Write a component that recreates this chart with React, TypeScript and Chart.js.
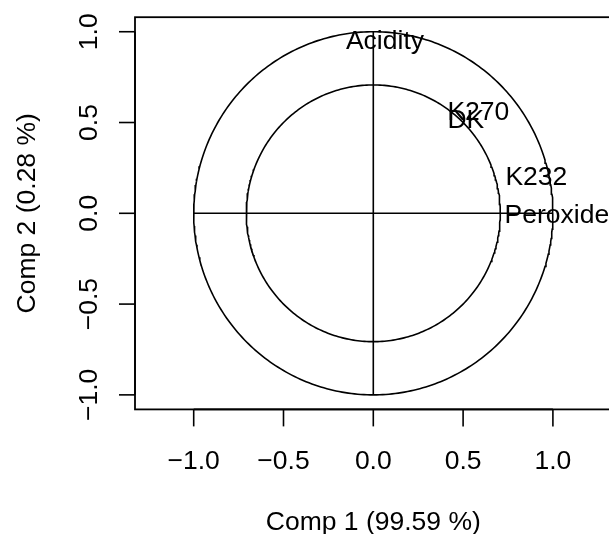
import React, { useEffect, useRef } from "react";
import { Chart, registerables } from "chart.js";

Chart.register(...registerables);

// Variables (correlation circle labels)
const varNames = ["Acidity", "Peroxide", "K232", "K270", "DK"];
const comp1 = [0.065, 1.022, 0.908, 0.585, 0.515];
const comp2 = [0.959, 0.0, 0.209, 0.564, 0.521];

// Circle radii
const circleRadii = [1, 0.707];

// Tick values / labels
const xTicks = [-1, -0.5, 0, 0.5, 1];
const xTickLabels = ["\u22121.0", "\u22120.5", "0.0", "0.5", "1.0"];
const yTicks = [-1, -0.5, 0, 0.5, 1];
const yTickLabels = ["\u22121.0", "\u22120.5", "0.0", "0.5", "1.0"];

const xTitle = "Comp 1 (99.59 %)";
const yTitle = "Comp 2 (0.28 %)";

const FONT = "26.5px 'Liberation Sans', Arial, Helvetica, sans-serif";
const CAP = 0.716 * 26.5;

function circlePoints(r: number) {
  const pts: { x: number; y: number }[] = [];
  const n = 360;
  for (let i = 0; i <= n; i++) {
    const a = (i / n) * Math.PI * 2;
    pts.push({ x: r * Math.cos(a), y: r * Math.sin(a) });
  }
  return pts;
}

const rAxisPlugin = {
  id: "rAxis",
  afterDatasetsDraw(chart: any) {
    const ctx = chart.ctx as CanvasRenderingContext2D;
    const { left, right, top, bottom } = chart.chartArea;
    const xs = chart.scales.x;
    const ys = chart.scales.y;
    ctx.save();
    ctx.strokeStyle = "#000";
    ctx.fillStyle = "#000";
    ctx.lineWidth = 1.8;
    // box
    ctx.strokeRect(left, top, right - left, bottom - top);

    ctx.lineWidth = 1.6;
    // x axis
    const x0 = xs.getPixelForValue(xTicks[0]);
    const x1 = xs.getPixelForValue(xTicks[xTicks.length - 1]);
    ctx.beginPath();
    ctx.moveTo(x0, bottom);
    ctx.lineTo(x1, bottom);
    ctx.stroke();
    ctx.font = FONT;
    ctx.textAlign = "center";
    ctx.textBaseline = "alphabetic";
    xTicks.forEach((v, i) => {
      const px = xs.getPixelForValue(v);
      ctx.beginPath();
      ctx.moveTo(px, bottom);
      ctx.lineTo(px, bottom + 17);
      ctx.stroke();
      ctx.fillText(xTickLabels[i], px, bottom + 59.4);
    });
    // x title
    ctx.fillText(xTitle, (left + right) / 2, 530);

    // y axis
    const y0 = ys.getPixelForValue(yTicks[0]);
    const y1 = ys.getPixelForValue(yTicks[yTicks.length - 1]);
    ctx.beginPath();
    ctx.moveTo(left, y0);
    ctx.lineTo(left, y1);
    ctx.stroke();
    yTicks.forEach((v, i) => {
      const py = ys.getPixelForValue(v);
      ctx.beginPath();
      ctx.moveTo(left, py);
      ctx.lineTo(left - 16, py);
      ctx.stroke();
      ctx.save();
      ctx.translate(left - 38.3, py);
      ctx.rotate(-Math.PI / 2);
      ctx.fillText(yTickLabels[i], 0, 0);
      ctx.restore();
    });
    ctx.save();
    ctx.translate(34.5, (top + bottom) / 2);
    ctx.rotate(-Math.PI / 2);
    ctx.fillText(yTitle, 0, 0);
    ctx.restore();

    // variable labels
    const meta = chart.getDatasetMeta(chart.data.datasets.length - 1);
    meta.data.forEach((el: any, i: number) => {
      ctx.fillText(varNames[i], el.x, el.y + CAP / 2);
    });
    ctx.restore();
  },
};

export default function App() {
  const ref = useRef<HTMLCanvasElement>(null);
  useEffect(() => {
    if (!ref.current) return;
    const lineStyle = {
      showLine: true,
      borderColor: "#000",
      borderWidth: 1.6,
      pointRadius: 0,
      pointHoverRadius: 0,
      tension: 0,
      fill: false,
    };
    const datasets: any[] = [];
    circleRadii.forEach((r) => {
      datasets.push({ ...lineStyle, data: circlePoints(r) });
    });
    datasets.push({
      ...lineStyle,
      data: [
        { x: xTicks[0], y: 0 },
        { x: xTicks[xTicks.length - 1], y: 0 },
      ],
    });
    datasets.push({
      ...lineStyle,
      data: [
        { x: 0, y: yTicks[0] },
        { x: 0, y: yTicks[yTicks.length - 1] },
      ],
    });
    datasets.push({
      showLine: false,
      pointRadius: 0,
      pointHoverRadius: 0,
      data: varNames.map((_, i) => ({ x: comp1[i], y: comp2[i] })),
    });
    const chart = new Chart(ref.current, {
      type: "scatter",
      data: { datasets },
      options: {
        animation: false,
        responsive: false,
        devicePixelRatio: 1,
        layout: { padding: { left: 135, top: 17.2, right: 28.4, bottom: 124.6 } },
        plugins: { legend: { display: false }, tooltip: { enabled: false } },
        scales: {
          x: { type: "linear", min: -1.3268, max: 1.3268, display: false },
          y: { type: "linear", min: -1.08, max: 1.08, display: false },
        },
      },
      plugins: [rAxisPlugin],
    });
    return () => chart.destroy();
  }, []);
  return (
    <div
      style={{
        position: "absolute",
        left: 0,
        top: 0,
        width: 609,
        height: 534,
        overflow: "hidden",
        background: "#fff",
      }}
    >
      <canvas ref={ref} width={640} height={534} style={{ width: 640, height: 534, display: "block" }} />
    </div>
  );
}
